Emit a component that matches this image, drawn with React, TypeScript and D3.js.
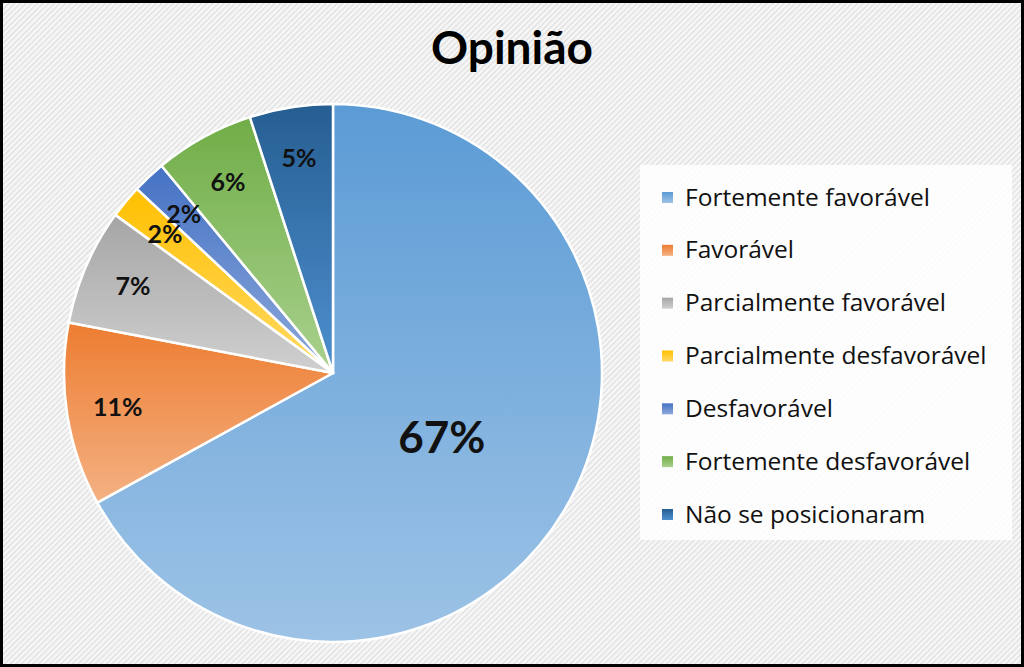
import React, { useEffect, useRef } from 'react';
import * as d3 from 'd3';

// Opinion categories and their shares (%)
const categories = [
  'Fortemente favorável',
  'Favorável',
  'Parcialmente favorável',
  'Parcialmente desfavorável',
  'Desfavorável',
  'Fortemente desfavorável',
  'Não se posicionaram',
];
const shares = [67, 11, 7, 2, 2, 6, 5];
// top colour / bottom colour of each slice gradient
const topColors = ['#5b9bd5', '#ed7d31', '#a5a5a5', '#ffc000', '#4472c4', '#70ad47', '#255e91'];
const bottomColors = ['#9dc3e6', '#f4b183', '#d0d0d0', '#ffd966', '#8ea9db', '#a9d18e', '#4f8fd0'];

export default function App() {
  const svgRef = useRef<SVGSVGElement>(null);

  useEffect(() => {
    if (!svgRef.current) return;
    const width = 1024;
    const height = 667;
    const svg = d3.select(svgRef.current);
    svg.selectAll('*').remove();
    svg.attr('width', width).attr('height', height);

    const defs = svg.append('defs');

    // hatched background
    const pat = defs.append('pattern')
      .attr('id', 'hatch')
      .attr('width', 4)
      .attr('height', 4)
      .attr('patternUnits', 'userSpaceOnUse')
      .attr('patternTransform', 'rotate(-45)');
    pat.append('rect').attr('width', 4).attr('height', 4).attr('fill', '#f7f7f7');
    pat.append('rect').attr('width', 4).attr('height', 1.4).attr('fill', '#e0e0e0');

    categories.forEach((c, i) => {
      const g = defs.append('linearGradient')
        .attr('id', 'grad' + i)
        .attr('x1', 0).attr('y1', 0).attr('x2', 0).attr('y2', 1);
      g.append('stop').attr('offset', '0%').attr('stop-color', topColors[i]);
      g.append('stop').attr('offset', '100%').attr('stop-color', bottomColors[i]);
    });

    svg.append('rect')
      .attr('x', 0).attr('y', 0)
      .attr('width', width).attr('height', height)
      .attr('fill', 'url(#hatch)');
    svg.append('rect')
      .attr('x', 1.5).attr('y', 1.5)
      .attr('width', width - 3).attr('height', height - 3)
      .attr('fill', 'none')
      .attr('stroke', '#000')
      .attr('stroke-width', 3);

    // title
    svg.append('text')
      .attr('x', 512)
      .attr('y', 64)
      .attr('text-anchor', 'middle')
      .attr('font-family', 'Lato, "Open Sans", sans-serif')
      .attr('font-size', 46)
      .attr('font-weight', 'bold')
      .attr('fill', '#000')
      .text('Opinião');

    // pie
    const cx = 333;
    const cy = 373;
    const radius = 269;
    const data = categories.map((c, i) => ({ name: c, value: shares[i], idx: i }));
    const pie = d3.pie<any>().sort(null).value(d => d.value);
    const arcs = pie(data);
    const arc = d3.arc<any>().innerRadius(0).outerRadius(radius);

    const g = svg.append('g').attr('transform', `translate(${cx},${cy})`);
    g.selectAll('path.slice')
      .data(arcs)
      .enter()
      .append('path')
      .attr('class', 'slice')
      .attr('d', arc)
      .attr('fill', d => `url(#grad${d.data.idx})`)
      .attr('stroke', '#fff')
      .attr('stroke-width', 2.5)
      .attr('stroke-linejoin', 'round');

    // labels: big slice nearer the centre, small slices near the rim
    const bigLabelArc = d3.arc<any>().innerRadius(radius * 0.47).outerRadius(radius * 0.47);
    const smallLabelArc = d3.arc<any>().innerRadius(radius * 0.81).outerRadius(radius * 0.81);
    g.selectAll('text.pct')
      .data(arcs)
      .enter()
      .append('text')
      .attr('class', 'pct')
      .attr('transform', d => {
        const [x, y] = (d.data.value > 50 ? bigLabelArc : smallLabelArc).centroid(d);
        return `translate(${x},${y})`;
      })
      .attr('text-anchor', 'middle')
      .attr('dy', '0.35em')
      .attr('font-family', 'Lato, "Open Sans", sans-serif')
      .attr('font-weight', 'bold')
      .attr('font-size', d => (d.data.value > 50 ? 44 : 25))
      .attr('fill', '#111')
      .text(d => d.data.value + '%');

    // legend
    const legend = svg.append('g');
    legend.append('rect')
      .attr('x', 640).attr('y', 165)
      .attr('width', 372).attr('height', 375)
      .attr('fill', '#fff')
      .attr('opacity', 0.85);
    const ly = d3.scalePoint<string>().domain(categories).range([197, 514]);
    const items = legend.selectAll('g.item')
      .data(categories)
      .enter()
      .append('g')
      .attr('class', 'item')
      .attr('transform', d => `translate(662,${ly(d)})`);
    items.append('rect')
      .attr('x', 0).attr('y', -5)
      .attr('width', 11).attr('height', 11)
      .attr('fill', (d, i) => `url(#grad${i})`);
    items.append('text')
      .attr('x', 23)
      .attr('y', 0)
      .attr('dy', '0.35em')
      .attr('font-family', '"Open Sans", Lato, sans-serif')
      .attr('font-size', 24.5)
      .attr('fill', '#111')
      .text(d => d);
  }, []);

  return (
    <svg
      ref={svgRef}
      style={{ position: 'absolute', left: 0, top: 0, display: 'block' }}
    />
  );
}
